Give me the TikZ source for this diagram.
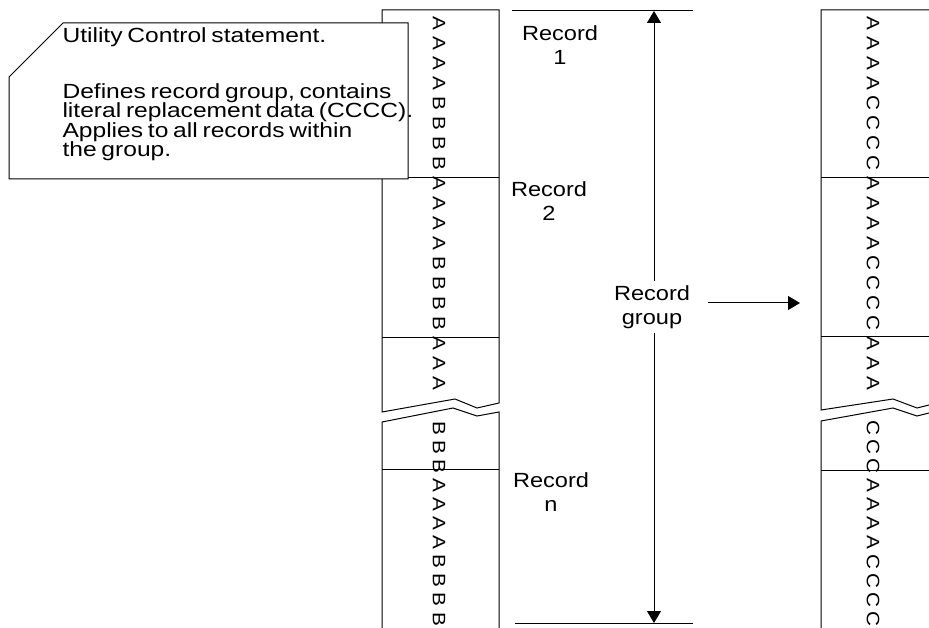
\documentclass[tikz,border=0pt]{standalone}
\usepackage{fontspec}
\setmainfont{Liberation Sans}[FakeStretch=1.15,WordSpace=0.7]
\newfontfamily\notefam{Liberation Sans}[FakeStretch=1.2,WordSpace=0.7]
\usetikzlibrary{arrows.meta}
\newcommand\notefont{\notefam\fontsize{20.5}{19.5}\selectfont\lineskiplimit=-20pt\relax}
\begin{document}
\begin{tikzpicture}[x=1pt, y=-1pt, line width=1pt,
  lbl/.style={align=center, inner sep=4pt, font=\fontsize{20.5}{24}\selectfont},
  note/.style={align=left, inner sep=0pt, font=\notefont},
  chr/.style={rotate=-90, inner sep=0pt, font=\fontsize{18}{18}\selectfont},
  arr/.style={-{Triangle[width=14pt,length=12pt]}}]
\useasboundingbox (0,0) rectangle (929,628);
\draw (382,10) -- (499,10) -- (499,403) -- (477,408) -- (455,399) -- (382,412) -- cycle;
\draw (382,628) -- (382,422) -- (453,408) -- (477,416) -- (499,412) -- (499,628);
\draw (382,178) -- (499,178);
\draw (382,337) -- (499,337);
\draw (382,469) -- (499,469);
\draw (929,10) -- (821,10) -- (821,410) -- (893,399) -- (917,408) -- (929,405);
\draw (821,628) -- (821,421) -- (893,408) -- (917,416) -- (929,413);
\draw (821,178) -- (929,178);
\draw (821,336) -- (929,336);
\draw (821,470) -- (929,470);
\foreach \c [count=\i from 0] in {A,A,A,A,B,B,B,B,A,A,A,A,B,B,B,B,A,A,A}
  \node [chr] (la\i) at (439,23+20*\i) {\c};
\foreach \c [count=\i from 0] in {A,A,A,A,C,C,C,C,A,A,A,A,C,C,C,C,A,A,A}
  \node [chr] (ra\i) at (873,23+20*\i) {\c};
\foreach \c [count=\i from 0] in {B,B,B,A,A,A,A,B,B,B,B}
  \node [chr] (lb\i) at (439,428+19.1*\i) {\c};
\foreach \c [count=\i from 0] in {C,C,C,A,A,A,A,C,C,C,C}
  \node [chr] (rb\i) at (873,428+19.1*\i) {\c};
\draw [fill=white] (63,23) -- (408,23) -- (408,179) -- (9,179) -- (9,77) -- cycle;
\node [note, anchor=north west] (ctl) at (62,27) {Utility Control statement.\\[36.5pt]
  Defines record group, contains\\ literal replacement data (CCCC).\\
  Applies to all records within\\ the group.};
\draw (512,11) -- (693,11);
\draw (515,623) -- (693,623);
\node [lbl] (rec1) at (560,45) {Record\\1};
\node [lbl] (rec2) at (549,201) {Record\\2};
\node [lbl] (recn) at (551,492) {Record\\n};
\node [lbl] (grp) at (652,307) {Record\\group};
\coordinate (gtop) at (654,11);
\coordinate (gbot) at (654,623);
\draw [arr] (grp.north -| gtop) -- (gtop);
\draw [arr] (grp.south -| gbot) -- (gbot);
\coordinate (out1) at (708,303);
\coordinate (out2) at (800,303);
\draw [arr] (out1) -- (out2);
\end{tikzpicture}
\end{document}
